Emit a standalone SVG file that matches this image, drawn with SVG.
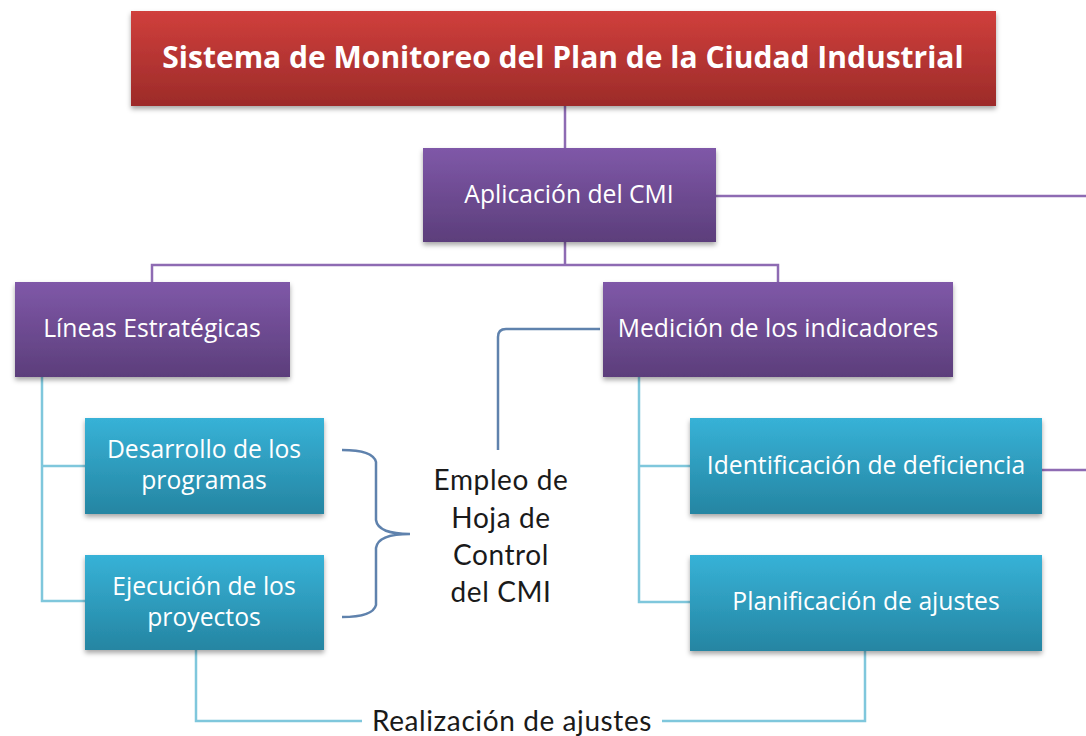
<svg xmlns="http://www.w3.org/2000/svg" width="1086" height="736" viewBox="0 0 1086 736">
<defs>
<linearGradient id="gRed" x1="0" y1="0" x2="0" y2="1"><stop offset="0" stop-color="#d03f3c"/><stop offset="1" stop-color="#9c2b29"/></linearGradient>
<linearGradient id="gPur" x1="0" y1="0" x2="0" y2="1"><stop offset="0" stop-color="#7f58a8"/><stop offset="1" stop-color="#5c3e7b"/></linearGradient>
<linearGradient id="gTeal" x1="0" y1="0" x2="0" y2="1"><stop offset="0" stop-color="#37b2d7"/><stop offset="1" stop-color="#2585a2"/></linearGradient>
<filter id="sh" x="-5%" y="-10%" width="110%" height="130%"><feDropShadow dx="0" dy="3" stdDeviation="2.5" flood-color="#000" flood-opacity="0.35"/></filter>
</defs>
<style>
.box{filter:url(#sh)}
.lbl{font-family:"Open Sans","Liberation Sans",sans-serif;fill:#fff;text-anchor:middle;font-size:24.7px}
.blk{font-family:Lato,"Noto Sans","Liberation Sans",sans-serif;fill:#1a1a1a;text-anchor:middle;letter-spacing:0.6px}
.pl{stroke:#8e6bb3;stroke-width:2.5;fill:none}
.tl{stroke:#7fc7dc;stroke-width:2.5;fill:none}
.bl{stroke:#5f82ad;stroke-width:2.5;fill:none}
</style>
<rect width="1086" height="736" fill="#fff"/>
<g id="connectors">
<path class="pl" d="M565 106V148"/>
<path class="pl" d="M716 196H1086"/>
<path class="pl" d="M565 242V265M152 283V265H778V283"/>
<path class="pl" d="M1042 470H1086"/>
<path class="tl" d="M42 377V601H85M42 466H85"/>
<path class="tl" d="M639 377V602H690M639 466H690"/>
<path class="tl" d="M196 650V721H362M662 721H865V651"/>
<path class="bl" d="M600 329H506Q498 329 498 337V450"/>
<path class="bl" d="M342 450Q373 450 376 462V520Q378 534 410 534Q378 534 376 548V605Q373 617 342 617"/>
</g>
<g id="n-title"><rect class="box" x="131" y="11" width="865" height="95" fill="url(#gRed)"/><text class="lbl" x="563" y="68" style="font-size:30px" font-weight="bold">Sistema de Monitoreo del Plan de la Ciudad Industrial</text></g>
<g id="n-aplicacion"><rect class="box" x="423" y="148" width="293" height="94" fill="url(#gPur)"/><text class="lbl" x="569" y="203">Aplicación del CMI</text></g>
<g id="n-lineas"><rect class="box" x="15" y="282" width="275" height="95" fill="url(#gPur)"/><text class="lbl" x="152" y="337">Líneas Estratégicas</text></g>
<g id="n-medicion"><rect class="box" x="603" y="282" width="350" height="95" fill="url(#gPur)"/><text class="lbl" x="778" y="337">Medición de los indicadores</text></g>
<g id="n-desarrollo"><rect class="box" x="85" y="418" width="239" height="96" fill="url(#gTeal)"/><text class="lbl" x="204" y="458">Desarrollo de los</text><text class="lbl" x="204" y="489">programas</text></g>
<g id="n-ejecucion"><rect class="box" x="85" y="555" width="239" height="95" fill="url(#gTeal)"/><text class="lbl" x="204" y="595">Ejecución de los</text><text class="lbl" x="204" y="626">proyectos</text></g>
<g id="n-identificacion"><rect class="box" x="690" y="418" width="352" height="96" fill="url(#gTeal)"/><text class="lbl" x="866" y="474">Identificación de deficiencia</text></g>
<g id="n-planificacion"><rect class="box" x="690" y="555" width="352" height="96" fill="url(#gTeal)"/><text class="lbl" x="866" y="610">Planificación de ajustes</text></g>
<g id="n-empleo"><text class="blk" font-size="28"><tspan x="501" y="490">Empleo de</tspan><tspan x="501" y="528">Hoja de</tspan><tspan x="501" y="565">Control</tspan><tspan x="501" y="602">del CMI</tspan></text></g>
<g id="n-realizacion"><text class="blk" x="512" y="731" font-size="28">Realización de ajustes</text></g>
</svg>
